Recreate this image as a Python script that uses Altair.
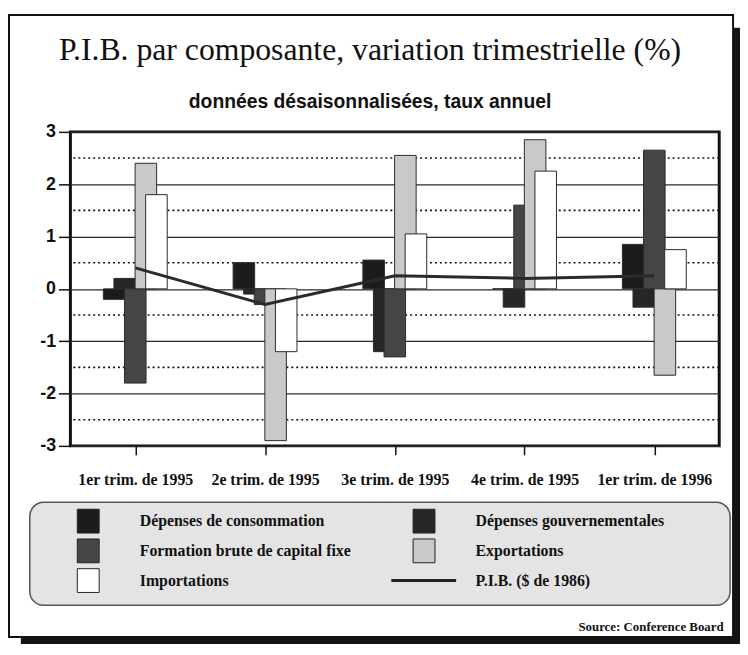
import json
import altair as alt
import pandas as pd

# ---- data ----
quarters = ["1er trim. de 1995", "2e trim. de 1995", "3e trim. de 1995",
            "4e trim. de 1995", "1er trim. de 1996"]
series = ["Dépenses de consommation", "Dépenses gouvernementales",
          "Formation brute de capital fixe", "Exportations", "Importations"]
consommation = [-0.2, 0.5, 0.55, 0.0, 0.85]
gouvernementales = [0.2, -0.1, -1.2, -0.35, -0.35]
formation = [-1.8, -0.3, -1.3, 1.6, 2.65]
exportations = [2.4, -2.9, 2.55, 2.85, -1.65]
importations = [1.8, -1.2, 1.05, 2.25, 0.75]
pib_label = "P.I.B. ($ de 1986)"
pib = [0.4, -0.3, 0.25, 0.2, 0.25]
y_ticks = [-3, -2, -1, 0, 1, 2, 3]
half_lines = [-2.5, -1.5, -0.5, 0.5, 1.5, 2.5]

title_text = "P.I.B. par composante, variation trimestrielle (%)"
subtitle_text = "données désaisonnalisées, taux annuel"
source_text = "Source: Conference Board"

bar_colors = ["#1c1c1c", "#262626", "#454545", "#c9c9c9", "#ffffff"]
line_color = "#2a2a2a"

values = [consommation, gouvernementales, formation, exportations, importations]
rows = []
for si, (s, vals) in enumerate(zip(series, values)):
    for qi, q in enumerate(quarters):
        rows.append({"quarter": q, "qi": qi, "series": s, "si": si, "value": vals[qi]})
bars_df = pd.DataFrame(rows)
line_df = pd.DataFrame({"quarter": quarters, "qi": list(range(len(quarters))), "pib": pib})
half_df = pd.DataFrame({"v": half_lines})

W, H = 655, 317
xscale = alt.Scale(domain=[-0.5, len(quarters) - 0.5], nice=False, zero=False)
yscale = alt.Scale(domain=[-3, 3], nice=False)

x_axis = alt.Axis(
    values=list(range(len(quarters))),
    labelExpr=json.dumps(quarters) + "[round(datum.value)]",
    domain=False, grid=False, tickSize=9, tickColor="#111", tickWidth=1.5,
    labelFont="Liberation Serif", labelFontSize=16, labelFontWeight="bold",
    labelColor="#111", labelPadding=17, labelFlush=False,
    title=source_text, titleFont="Liberation Serif", titleFontSize=13,
    titleFontWeight="bold", titleColor="#111", titleAnchor="end", titleAlign="right",
    titleX=W + 4, titleY=186, titleBaseline="alphabetic",
)
y_axis = alt.Axis(
    values=y_ticks, labelExpr="'' + datum.value", domain=False, tickSize=12,
    tickColor="#111", tickWidth=1.5,
    labelFont="Liberation Sans", labelFontSize=18, labelFontWeight="bold",
    labelColor="#111", labelPadding=3, grid=True, gridColor="#2a2a2a",
    gridWidth=1.3, title=None,
)

shape_sig = ("datum.value === " + json.dumps(pib_label) +
             " ? 'M-2.75,0H2.7' : 'M-0.92,-1H0.92V1H-0.92Z'")
width_sig = "datum.value === " + json.dumps(pib_label) + " ? 3 : 1"

legend = alt.Legend(
    title="\u00a0", titleOrient="right", titlePadding=55, titleFontSize=4,
    orient="none", legendX=-41, legendY=374, columns=2, direction="horizontal",
    gridAlign="each",
    symbolSize=576, symbolStrokeColor="#222",
    symbolStrokeWidth=alt.ExprRef(expr=width_sig),
    symbolType=alt.ExprRef(expr=shape_sig),
    symbolOffset=40, labelOffset=44, rowPadding=2, columnPadding=25,
    padding=11, labelFont="Liberation Serif", labelFontSize=16,
    labelFontWeight="bold", labelColor="#111", labelLimit=400,
    fillColor="#e4e4e4", strokeColor="#555", cornerRadius=14,
)

one = alt.Data(values=[{}])

shadow_right = alt.Chart(one).mark_rect(color="#151515").encode(
    x=alt.value(669), x2=alt.value(676), y=alt.value(-105), y2=alt.value(517))
shadow_bottom = alt.Chart(one).mark_rect(color="#151515").encode(
    x=alt.value(-50), x2=alt.value(676), y=alt.value(510), y2=alt.value(517))
frame = alt.Chart(one).mark_rect(fill=None, stroke="#111", strokeWidth=2).encode(
    x=alt.value(-62), x2=alt.value(669), y=alt.value(-118), y2=alt.value(510))

dotted = alt.Chart(half_df).mark_rule(
    color="#111", strokeWidth=1.6, strokeDash=[2, 3]
).encode(y=alt.Y("v:Q", scale=yscale, axis=y_axis, title=None))

bar_layer = alt.Chart(bars_df).transform_calculate(
    x0="datum.qi + (datum.si - 2) * 0.0815 - 0.083",
    x1="datum.qi + (datum.si - 2) * 0.0815 + 0.083",
).mark_rect(stroke="#2a2a2a", strokeWidth=1).encode(
    x=alt.X("x0:Q", scale=xscale, axis=x_axis, title=source_text),
    x2="x1:Q",
    y=alt.Y("value:Q", scale=yscale, title=None),
    y2=alt.datum(0),
    color=alt.Color("series:N",
                    scale=alt.Scale(domain=series + [pib_label],
                                    range=bar_colors + [line_color]),
                    legend=legend),
)

line_layer = alt.Chart(line_df).mark_line(color=line_color, strokeWidth=3).encode(
    x=alt.X("qi:Q", scale=xscale, title=source_text),
    y=alt.Y("pib:Q", scale=yscale, title=None),
)

chart = alt.layer(
    shadow_right, shadow_bottom, frame, dotted, bar_layer, line_layer
).properties(
    width=W, height=H,
    padding={"left": 0, "top": 3, "right": 0, "bottom": 0},
    background="white",
    title=alt.TitleParams(
        text=title_text, subtitle=subtitle_text,
        font="Liberation Serif", fontSize=32, fontWeight="normal", color="#111",
        subtitleFont="Liberation Sans", subtitleFontSize=19.5,
        subtitleFontWeight="bold", subtitleColor="#111", subtitlePadding=26,
        anchor="middle", frame="bounds", offset=-99, dx=-4,
    ),
).configure_view(stroke="#111", strokeWidth=3).configure_legend(strokeWidth=1.5)

chart.save("out.html", embed_options={"renderer": "svg", "actions": False})
